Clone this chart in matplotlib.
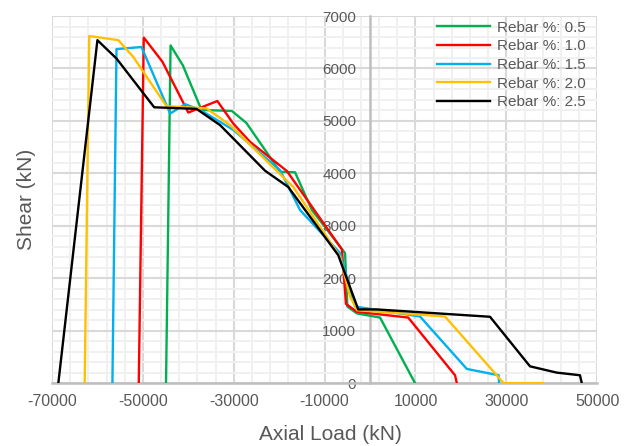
import matplotlib.pyplot as plt

plt.rcParams["font.family"] = ["Liberation Sans", "DejaVu Sans"]
plt.rcParams["axes.unicode_minus"] = False

# axial load (kN) / shear (kN) pairs
axial_05 = [-44900, -43900, -41200, -37100, -30400, -27200, -19800, -16500,
            -12800, -5500, -5000, -2900, 2200, 9900]
shear_05 = [0, 6440, 6060, 5210, 5190, 4960, 4030, 4020, 3300, 2480, 1460,
            1330, 1250, 0]

axial_10 = [-50900, -49800, -45700, -40000, -33600, -30100, -26400, -18300,
            -6200, -5300, -2900, 8400, 18700, 19100]
shear_10 = [0, 6590, 6130, 5160, 5380, 4950, 4600, 4045, 2550, 1510, 1360,
            1250, 150, 0]

axial_15 = [-56700, -55800, -50300, -44000, -40700, -37400, -30100, -19800,
            -15400, -6600, -3300, 11000, 21300, 28300, 28400]
shear_15 = [0, 6370, 6410, 5140, 5320, 5210, 4830, 4060, 3300, 2480, 1460,
            1270, 270, 150, 0]

axial_20 = [-62800, -61800, -55400, -52100, -44800, -36000, -30800, -16900,
            -6600, -4400, -2800, 16500, 29400, 38000]
shear_20 = [0, 6620, 6540, 6220, 5280, 5240, 4920, 3740, 2410, 1650, 1390,
            1270, 0, 0]

axial_25 = [-68600, -60000, -55800, -47500, -38200, -33000, -23100, -18000,
            -7000, -2600, 1500, 26400, 35200, 41100, 46200, 46600]
shear_25 = [0, 6540, 6190, 5260, 5230, 4920, 4050, 3740, 2440, 1405, 1405,
            1265, 320, 200, 150, 0]

x_ticks = list(range(-70000, 50001, 20000))
x_minor = list(range(-70000, 50001, 4000))
y_ticks = list(range(0, 7001, 1000))
y_minor = list(range(0, 7001, 200))

series = [
    ("Rebar %: 0.5", axial_05, shear_05, "#00B050"),
    ("Rebar %: 1.0", axial_10, shear_10, "#FF0000"),
    ("Rebar %: 1.5", axial_15, shear_15, "#00B0F0"),
    ("Rebar %: 2.0", axial_20, shear_20, "#FFC000"),
    ("Rebar %: 2.5", axial_25, shear_25, "#000000"),
]

fig = plt.figure(figsize=(6.3, 4.46), dpi=100)
ax = fig.add_axes([0.0825, 0.141, 0.8655, 0.823])

for label, x, y, color in series:
    ax.plot(x, y, color=color, lw=1.7, label=label, zorder=3)

ax.set_xlim(-70000, 50000)
ax.set_ylim(0, 7000)
ax.set_xticks(x_ticks)
ax.set_xticks(x_minor, minor=True)
ax.set_yticks(y_ticks)
ax.set_yticks(y_minor, minor=True)

ax.grid(which="major", color="#D9D9D9", lw=1.5, zorder=1)
ax.grid(which="minor", color="#F0F0F0", lw=1.4, zorder=0)
ax.set_axisbelow(True)

for side in ("top", "right"):
    ax.spines[side].set_visible(False)
ax.spines["left"].set_position(("data", 0))
ax.spines["left"].set_color("#BFBFBF")
ax.spines["left"].set_linewidth(1.8)
ax.spines["bottom"].set_color("#BFBFBF")
ax.spines["bottom"].set_linewidth(1.8)

ax.tick_params(which="both", length=0, colors="#595959", labelsize=11)
ax.tick_params(axis="x", labelsize=11.5, pad=8)
ax.tick_params(axis="y", pad=10)

ax.set_xlabel("Axial Load (kN)", fontsize=15, color="#595959")
ax.set_ylabel("Shear (kN)", fontsize=15, color="#595959")
ax.xaxis.set_label_coords(0.51, -0.113)
ax.yaxis.set_label_coords(-0.03, 0.5)

ax.legend(loc="upper right", bbox_to_anchor=(0.995, 1.012), frameon=False,
          fontsize=11, handlelength=3.5, labelspacing=0.3, handletextpad=0.4,
          labelcolor="#595959", borderaxespad=0.2)

fig.savefig("out.png", dpi=100)
